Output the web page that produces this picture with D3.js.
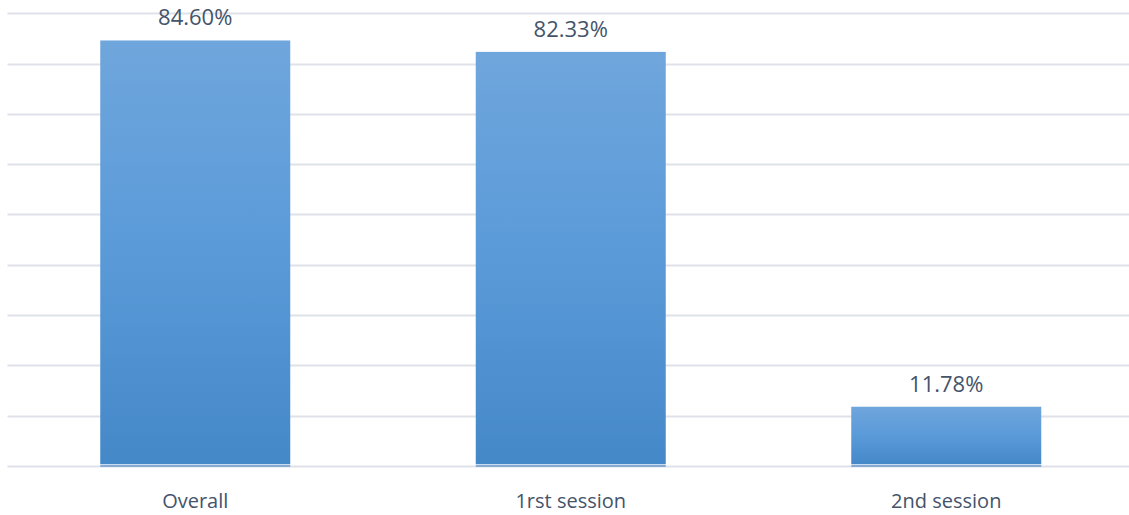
<!DOCTYPE html>
<html>
<head>
<meta charset="utf-8">
<script src="https://cdn.jsdelivr.net/npm/d3@7/dist/d3.min.js"></script>
<style>
  html, body { margin: 0; padding: 0; background: #ffffff; }
  svg { display: block; }
  text { font-family: "Open Sans", sans-serif; fill: #44546a; }
</style>
</head>
<body>
<svg id="chart" width="1129" height="515"></svg>
<script>
// Share of participants per session
const categories = ["Overall", "1rst session", "2nd session"];
const values = [84.60, 82.33, 11.78];
const gridTicks = [0, 10, 20, 30, 40, 50, 60, 70, 80, 90];

const plotLeft = 7.5, plotRight = 1134, plotTop = 13.3, plotBottom = 466;

const svg = d3.select("#chart");

const x = d3.scaleBand()
  .domain(categories)
  .range([plotLeft, plotRight])
  .paddingInner(0.494)
  .paddingOuter(0.247);

const y = d3.scaleLinear()
  .domain([0, 90])
  .range([plotBottom, plotTop]);

// vertical gradient used by every bar
const defs = svg.append("defs");
const grad = defs.append("linearGradient")
  .attr("id", "barFill")
  .attr("x1", 0).attr("y1", 0).attr("x2", 0).attr("y2", 1);
grad.append("stop").attr("offset", "0%").attr("stop-color", "#6fa6dc");
grad.append("stop").attr("offset", "50%").attr("stop-color", "#5a9ad9");
grad.append("stop").attr("offset", "100%").attr("stop-color", "#4588c8");

// horizontal gridlines
svg.append("g")
  .selectAll("line")
  .data(gridTicks)
  .join("line")
  .attr("x1", plotLeft)
  .attr("x2", plotRight)
  .attr("y1", d => Math.round(y(d)) + 0.5)
  .attr("y2", d => Math.round(y(d)) + 0.5)
  .attr("stroke", "#dfe2e9")
  .attr("stroke-width", 2);

const data = categories.map((c, i) => ({ cat: c, val: values[i] }));

// bars
svg.append("g")
  .selectAll("rect")
  .data(data)
  .join("rect")
  .attr("x", d => x(d.cat))
  .attr("width", x.bandwidth())
  .attr("y", d => y(d.val))
  .attr("height", d => y(0) - 2 - y(d.val))
  .attr("fill", "url(#barFill)");

// thin base strip under each bar
const base = svg.append("g");
base.selectAll("rect.hl")
  .data(data)
  .join("rect")
  .attr("class", "hl")
  .attr("x", d => x(d.cat))
  .attr("width", x.bandwidth())
  .attr("y", y(0) - 2)
  .attr("height", 1)
  .attr("fill", "#c9dcf0");
base.selectAll("rect.ln")
  .data(data)
  .join("rect")
  .attr("class", "ln")
  .attr("x", d => x(d.cat))
  .attr("width", x.bandwidth())
  .attr("y", y(0) - 1)
  .attr("height", 2)
  .attr("fill", "#86aad3");

// value labels
svg.append("g")
  .selectAll("text")
  .data(data)
  .join("text")
  .attr("x", d => x(d.cat) + x.bandwidth() / 2)
  .attr("y", d => y(d.val) - 15)
  .attr("text-anchor", "middle")
  .style("font-size", "22px")
  .text(d => d.val.toFixed(2) + "%");

// category axis labels
const xAxis = d3.axisBottom(x).tickSize(0).tickPadding(0);
const gx = svg.append("g")
  .attr("transform", `translate(0,${plotBottom})`)
  .call(xAxis);
gx.select(".domain").remove();
gx.selectAll("text")
  .attr("y", 42)
  .attr("dy", null)
  .style("font-size", "20px")
  .style("font-family", "\"Open Sans\", sans-serif")
  .attr("fill", "#44546a");
</script>
</body>
</html>
